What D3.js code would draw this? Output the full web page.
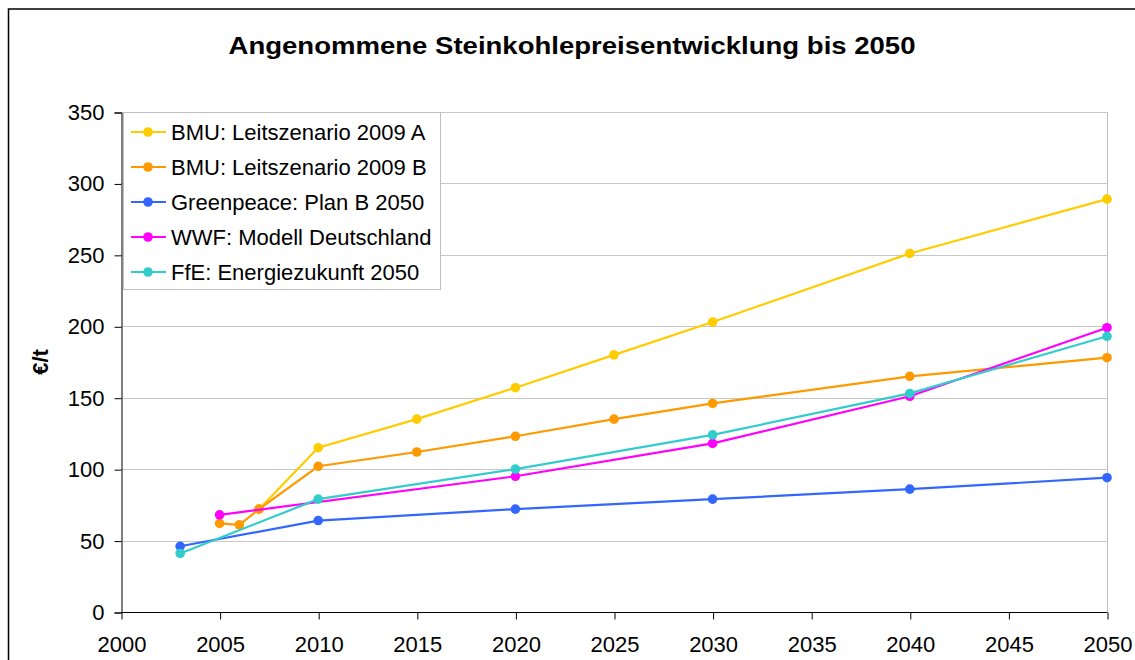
<!DOCTYPE html>
<html>
<head>
<meta charset="utf-8">
<script src="https://cdn.jsdelivr.net/npm/d3@7"></script>
<style>
  body { margin: 0; background: #fff; }
  svg { display: block; font-family: "Liberation Sans", Arial, sans-serif; }
</style>
</head>
<body>
<svg width="1135" height="660"></svg>
<script>
// series values
const seriesNames = [
    "BMU: Leitszenario 2009 A",
    "BMU: Leitszenario 2009 B",
    "Greenpeace: Plan B 2050",
    "WWF: Modell Deutschland",
    "FfE: Energiezukunft 2050"
];
const seriesColors = ["#ffcc00", "#ff9900", "#3366ff", "#ff00ff", "#33cccc"];

const bmuA = [[2007, 72], [2010, 115], [2015, 135], [2020, 157], [2025, 180], [2030, 203], [2040, 251], [2050, 289]];
const bmuB = [[2005, 62], [2006, 61], [2007, 72], [2010, 102], [2015, 112], [2020, 123], [2025, 135], [2030, 146], [2040, 165], [2050, 178]];
const greenpeace = [[2003, 46], [2010, 64], [2020, 72], [2030, 79], [2040, 86], [2050, 94]];
const wwf = [[2005, 68], [2020, 95], [2030, 118], [2040, 151], [2050, 199]];
const ffe = [[2003, 41], [2010, 79], [2020, 100], [2030, 124], [2040, 153], [2050, 193]];

const xTicks = d3.range(2000, 2051, 5);
const yTicks = d3.range(0, 351, 50);

const allSeries = [bmuA, bmuB, greenpeace, wwf, ffe];

let svg = d3.select("svg");

// outer frame
svg.append("rect")
    .attr("x", 8.5).attr("y", 9)
    .attr("width", 1140).attr("height", 660)
    .attr("fill", "none")
    .attr("stroke", "#000")
    .attr("stroke-width", 1.5);

let x = d3.scaleLinear().domain([2000, 2050]).range([121, 1107]);
let y = d3.scaleLinear().domain([0, 350]).range([612, 112]);

// gridlines
svg.append("g").selectAll("line")
    .data(yTicks.slice(1))
    .enter().append("line")
    .attr("x1", 121).attr("x2", 1107)
    .attr("y1", d => Math.round(y(d)) + 0.5)
    .attr("y2", d => Math.round(y(d)) + 0.5)
    .attr("stroke", "#c8c8c8");

// right border of plot area
svg.append("line")
    .attr("x1", 1107.5).attr("x2", 1107.5)
    .attr("y1", 112).attr("y2", 612)
    .attr("stroke", "#c0c0c0");

// axes
let yAxis = svg.append("g")
    .attr("transform", "translate(121.5,0.5)")
    .call(d3.axisLeft(y).tickValues(yTicks).tickSize(7).tickPadding(10));
let xAxis = svg.append("g")
    .attr("transform", "translate(0.5,612.5)")
    .call(d3.axisBottom(x).tickValues(xTicks).tickSize(7).tickFormat(d3.format("d")).tickPadding(17));

[yAxis, xAxis].forEach(a => {
    a.select(".domain").attr("stroke", "#000");
    a.selectAll(".tick line").attr("stroke", "#000");
    a.selectAll("text")
        .attr("font-size", 22)
        .attr("font-family", "Liberation Sans, Arial, sans-serif")
        .attr("fill", "#000");
});
xAxis.select(".domain").attr("d", "M121,0H1107");

// lines and markers
let line = d3.line().x(d => x(d[0])).y(d => y(d[1]));

let seriesLayer = svg.append("g");
allSeries.forEach((s, i) => {
    let g = seriesLayer.append("g");
    g.append("path")
        .datum(s)
        .attr("d", line)
        .attr("fill", "none")
        .attr("stroke", seriesColors[i])
        .attr("stroke-width", 2.2);
    g.selectAll("circle")
        .data(s)
        .enter().append("circle")
        .attr("cx", d => x(d[0]))
        .attr("cy", d => y(d[1]))
        .attr("r", 4.8)
        .attr("fill", seriesColors[i]);
});

// legend
let legend = svg.append("g");
legend.append("rect")
    .attr("x", 123.5).attr("y", 112.5)
    .attr("width", 317).attr("height", 177)
    .attr("fill", "#fff")
    .attr("stroke", "#c0c0c0");
let items = legend.selectAll("g.item")
    .data(seriesNames)
    .enter().append("g")
    .attr("transform", (d, i) => `translate(0,${132 + i * 35})`);
items.append("line")
    .attr("x1", 131).attr("x2", 166)
    .attr("stroke", (d, i) => seriesColors[i])
    .attr("stroke-width", 2.2);
items.append("circle")
    .attr("cx", 148).attr("r", 4.8)
    .attr("fill", (d, i) => seriesColors[i]);
items.append("text")
    .attr("x", 171).attr("y", 8)
    .attr("font-size", 22)
    .text(d => d);

// title (the original is drawn a bit wider than the font)
svg.append("text")
    .attr("x", 572).attr("y", 54)
    .attr("text-anchor", "middle")
    .attr("font-size", 24)
    .attr("font-weight", "bold")
    .attr("textLength", 687)
    .attr("lengthAdjust", "spacingAndGlyphs")
    .text("Angenommene Steinkohlepreisentwicklung bis 2050");

// y axis label
svg.append("text")
    .attr("transform", "translate(48,362) rotate(-90)")
    .attr("text-anchor", "middle")
    .attr("font-size", 22)
    .attr("font-weight", "bold")
    .text("€/t");
</script>
</body>
</html>
